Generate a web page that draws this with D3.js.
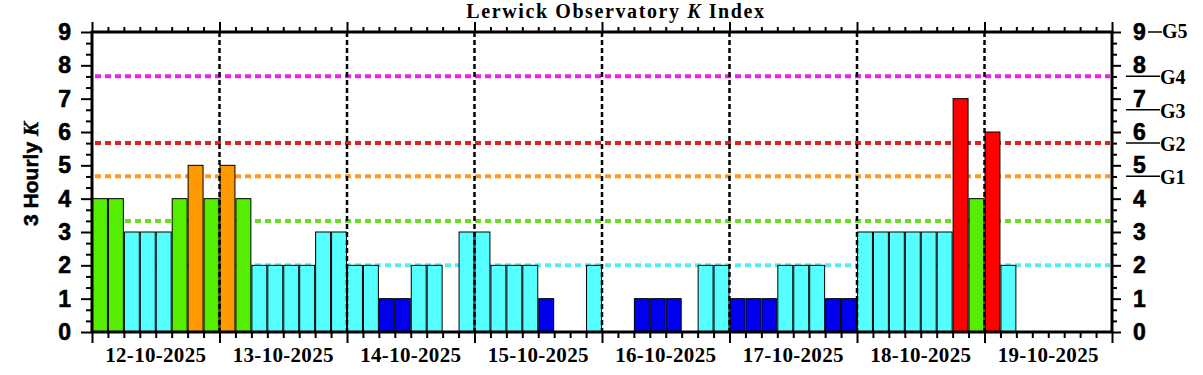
<!DOCTYPE html>
<html>
<head>
<meta charset="utf-8">
<script src="https://cdn.jsdelivr.net/npm/d3@7"></script>
<style>
  html, body { margin: 0; padding: 0; background: #fff; }
  svg { display: block; }
</style>
</head>
<body>
<div id="chart"></div>
<script>
// ---------- data ----------
const days = ["12-10-2025","13-10-2025","14-10-2025","15-10-2025","16-10-2025","17-10-2025","18-10-2025","19-10-2025"];
const slotsPerDay = 8;
const kValues = [
  4,4,3,3,3,4,5,4,
  5,4,2,2,2,2,3,3,
  2,2,1,1,2,2,0,3,
  3,2,2,2,1,0,0,2,
  0,0,1,1,1,0,2,2,
  1,1,1,2,2,2,1,1,
  3,3,3,3,3,3,7,4,
  6,2,null,null,null,null,null,null
];
const kColours = ["#0000ee","#0000ee","#55ffff","#55ffff","#55ee00","#ff9900","#ff0000","#ff0000","#ee00ee","#ee00ee"];
const thresholdLevels = [2, 3.33, 4.67, 5.67, 7.67];
const thresholdColours = ["#55eeee","#66dd22","#ff9922","#dd2222","#ee22ee"];
const stormLabels = ["G1","G2","G3","G4","G5"];
const stormLevels = [4.67, 5.67, 6.67, 7.67, 9];
const yTicks = [0,1,2,3,4,5,6,7,8,9];
const titleMain = "Lerwick Observatory ";
const titleK = "K";
const titleEnd = " Index";

// ---------- layout ----------
const W = 1203, H = 375;
const margin = {left: 92, right: 91, top: 32, bottom: 43};
const nSlots = days.length * slotsPerDay;

const svg = d3.select("#chart").append("svg").attr("width", W).attr("height", H);

const x = d3.scaleLinear().domain([0, nSlots]).range([margin.left, W - margin.right]);
const y = d3.scaleLinear().domain([0, 9]).range([H - margin.bottom, margin.top]);

// threshold lines (behind bars)
svg.append("g").selectAll("line").data(thresholdLevels).join("line")
  .attr("x1", x(0) + 3).attr("x2", x(nSlots) - 2)
  .attr("y1", d => y(d)).attr("y2", d => y(d))
  .attr("stroke", (d, i) => thresholdColours[i])
  .attr("stroke-width", 4)
  .attr("stroke-dasharray", "6,4");

// bars
const barData = kValues.map((v, i) => ({i, v})).filter(d => d.v !== null && d.v > 0);
svg.append("g").selectAll("rect").data(barData).join("rect")
  .attr("x", d => x(d.i) + 0.5)
  .attr("width", d => x(d.i + 1) - x(d.i) - 1)
  .attr("y", d => y(d.v))
  .attr("height", d => y(0) - y(d.v))
  .attr("fill", d => kColours[d.v])
  .attr("stroke", "#000")
  .attr("stroke-width", 1);

// day separators
svg.append("g").selectAll("line").data(d3.range(1, days.length)).join("line")
  .attr("x1", d => x(d * slotsPerDay)).attr("x2", d => x(d * slotsPerDay))
  .attr("y1", y(9)).attr("y2", y(0))
  .attr("stroke", "#000").attr("stroke-width", 2.5)
  .attr("stroke-dasharray", "5,3");

// ---------- axes ----------
const minorY = d3.range(0, 27).map(d => d / 3).filter(d => Math.abs(d - Math.round(d)) > 0.01);
const minorX = d3.range(0, nSlots + 1).filter(d => d % slotsPerDay !== 0);
const majorX = d3.range(0, days.length + 1).map(d => d * slotsPerDay);

function styleAxis(g) {
  g.select(".domain").remove();
  g.selectAll(".tick line").attr("stroke", "#000").attr("stroke-width", 2);
}

// left axis
const gL = svg.append("g").attr("transform", `translate(${x(0)},0)`)
  .call(d3.axisLeft(y).tickValues(yTicks).tickFormat(d3.format("d")).tickSize(11).tickPadding(10));
styleAxis(gL);
gL.selectAll("text").attr("font-family", "Liberation Sans, Arial, sans-serif").attr("font-weight", "bold").attr("font-size", 23).attr("fill", "#000")
  .attr("stroke", "#000").attr("stroke-width", 0.6);
svg.append("g").attr("transform", `translate(${x(0)},0)`)
  .call(d3.axisLeft(y).tickValues(minorY).tickFormat("").tickSize(6)).call(styleAxis);

// right axis
const gR = svg.append("g").attr("transform", `translate(${x(nSlots)},0)`)
  .call(d3.axisRight(y).tickValues(yTicks).tickFormat(d3.format("d")).tickSize(9).tickPadding(12));
styleAxis(gR);
gR.selectAll("text").attr("font-family", "Liberation Sans, Arial, sans-serif").attr("font-weight", "bold").attr("font-size", 23).attr("fill", "#000")
  .attr("stroke", "#000").attr("stroke-width", 0.6);
svg.append("g").attr("transform", `translate(${x(nSlots)},0)`)
  .call(d3.axisRight(y).tickValues(minorY).tickFormat("").tickSize(5)).call(styleAxis);

// bottom axis
const gB = svg.append("g").attr("transform", `translate(0,${y(0)})`)
  .call(d3.axisBottom(x).tickValues(majorX).tickFormat("").tickSize(11));
styleAxis(gB);
svg.append("g").attr("transform", `translate(0,${y(0)})`)
  .call(d3.axisBottom(x).tickValues(minorX).tickFormat("").tickSize(6)).call(styleAxis);

// top axis
svg.append("g").attr("transform", `translate(0,${y(9)})`)
  .call(d3.axisTop(x).tickValues(majorX).tickFormat("").tickSize(10)).call(styleAxis);
svg.append("g").attr("transform", `translate(0,${y(9)})`)
  .call(d3.axisTop(x).tickValues(minorX).tickFormat("").tickSize(5)).call(styleAxis);

// frame
svg.append("rect")
  .attr("x", x(0)).attr("y", y(9))
  .attr("width", x(nSlots) - x(0)).attr("height", y(0) - y(9))
  .attr("fill", "none").attr("stroke", "#000").attr("stroke-width", 3);

// day labels
svg.append("g").selectAll("text").data(days).join("text")
  .attr("x", (d, i) => x(i * slotsPerDay + slotsPerDay / 2))
  .attr("y", 362)
  .attr("text-anchor", "middle")
  .attr("font-family", "Liberation Serif, 'Times New Roman', serif")
  .attr("font-weight", "bold").attr("font-size", 21)
  .attr("letter-spacing", 0.3)
  .text(d => d);

// storm labels
const gS = svg.append("g");
stormLabels.forEach((lab, i) => {
  const yy = y(stormLevels[i]);
  if (stormLevels[i] < 9) {
    gS.append("line").attr("x1", 1126).attr("x2", 1160).attr("y1", yy).attr("y2", yy)
      .attr("stroke", "#000").attr("stroke-width", 1.5);
    gS.append("text").attr("x", 1160).attr("y", yy + 8)
      .attr("font-family", "Liberation Serif, 'Times New Roman', serif")
      .attr("font-weight", "bold").attr("font-size", 20).text(lab);
  } else {
    gS.append("line").attr("x1", 1148).attr("x2", 1162).attr("y1", yy).attr("y2", yy)
      .attr("stroke", "#000").attr("stroke-width", 1.5);
    gS.append("text").attr("x", 1162).attr("y", yy + 6)
      .attr("font-family", "Liberation Serif, 'Times New Roman', serif")
      .attr("font-weight", "bold").attr("font-size", 20).text(lab);
  }
});

// y title
const yt = svg.append("text")
  .attr("transform", `translate(38,${(y(0) + y(9)) / 2 - 8}) rotate(-90)`)
  .attr("text-anchor", "middle")
  .attr("font-family", "Liberation Sans, Arial, sans-serif")
  .attr("font-weight", "bold").attr("font-size", 21)
  .attr("stroke", "#000").attr("stroke-width", 0.5);
yt.append("tspan").text("3 Hourly ");
yt.append("tspan").attr("font-style", "italic").attr("font-family", "Liberation Serif, serif").text("K");

// title
const tt = svg.append("text")
  .attr("x", 616).attr("y", 18)
  .attr("text-anchor", "middle")
  .attr("font-family", "Liberation Serif, 'Times New Roman', serif")
  .attr("font-weight", "bold").attr("font-size", 20)
  .attr("letter-spacing", 1.6);
tt.append("tspan").text(titleMain);
tt.append("tspan").attr("font-style", "italic").text(titleK);
tt.append("tspan").text(titleEnd);
</script>
</body>
</html>
